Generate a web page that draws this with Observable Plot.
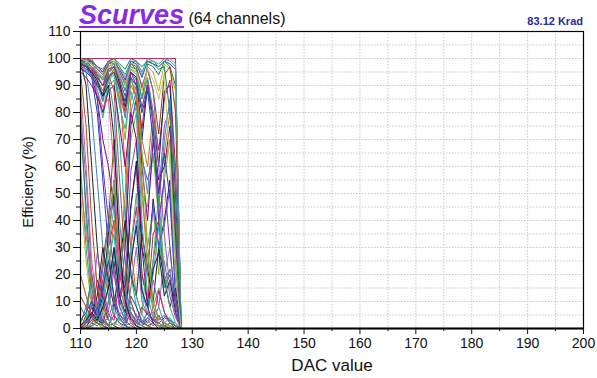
<!DOCTYPE html>
<html>
<head>
<meta charset="utf-8">
<script src="https://cdn.jsdelivr.net/npm/d3@7"></script>
<script src="https://cdn.jsdelivr.net/npm/@observablehq/plot@0.6"></script>
<style>
  body { margin: 0; background: #fff; font-family: "Liberation Sans", Arial, sans-serif; }
  #wrap { position: relative; width: 597px; height: 378px; }
  #title { position: absolute; left: 79px; top: 2px; white-space: nowrap; line-height: 27px; }
  #title .main { font-size: 27px; font-weight: bold; font-style: italic; color: #8a2be2; text-decoration: underline; }
  #title .sub { font-size: 16px; color: #111; }
  #dose { position: absolute; right: 14px; top: 15px; font-size: 11px; font-weight: bold; color: #2a2aa0; }
  #ylab { position: absolute; left: 27px; top: 182px; transform: translate(-50%, -50%) rotate(-90deg); font-size: 15px; color: #111; white-space: nowrap; }
  #xlab { position: absolute; left: 332px; top: 356px; transform: translateX(-50%); font-size: 17px; color: #111; white-space: nowrap; }
</style>
</head>
<body>
<div id="wrap">
  <div id="chart"></div>
  <div id="title"><span class="main">Scurves</span><span class="sub"> (64 channels)</span></div>
  <div id="dose">83.12 Krad</div>
  <div id="ylab">Efficiency (%)</div>
  <div id="xlab">DAC value</div>
</div>
<script>
// DAC values at which the efficiency was measured (last one: end of scan)
const dac = [110,111,112,113,114,115,116,117,118,119,120,121,122,123,124,125,126,127,128,200];

// Efficiency (%) per channel, one value per DAC point
const ch01 = [100,100,100,100,100,100,100,100,100,100,100,100,100,100,100,100,100,100,0,0];
const ch02 = [99,100,98,95,93,98,99,96,92,99,98,93,99,98,97,99,98,96,0,0];
const ch03 = [98,99,99,93,90,97,99,94,88,97,96,85,98,97,94,99,97,90,0,0];
const ch04 = [97,98,100,96,95,99,100,97,94,99,99,95,100,99,98,100,99,97,0,0];
const ch05 = [100,99,97,92,88,96,98,92,84,96,95,80,97,95,88,98,96,88,0,0];
const ch06 = [96,98,99,94,92,98,99,95,90,98,97,89,96,88,72,94,97,80,0,0];
const ch07 = [99,100,99,97,95,99,98,90,80,95,90,74,92,80,66,85,92,60,0,0];
const ch08 = [98,97,96,90,86,95,97,91,82,95,93,70,90,78,60,88,90,50,0,0];
const ch09 = [100,99,98,96,94,99,99,97,93,98,98,94,99,99,97,99,100,98,0,0];
const ch10 = [97,96,95,91,84,93,96,88,78,93,85,62,55,64,50,75,82,40,0,0];
const ch11 = [99,98,96,88,80,92,95,84,70,92,88,48,30,45,20,60,70,25,0,0];
const ch12 = [98,99,97,95,92,96,97,89,60,30,12,5,2,4,1,2,0,0,0,0];
const ch13 = [96,97,95,88,78,90,92,70,40,20,8,3,1,2,0,1,0,0,0,0];
const ch14 = [100,98,94,85,70,60,45,25,10,4,1,0,0,0,0,0,0,0,0,0];
const ch15 = [100,95,80,55,30,12,5,2,0,0,0,0,0,0,0,0,0,0,0,0];
const ch16 = [99,90,60,30,10,3,1,0,0,0,0,0,0,0,0,0,0,0,0,0];
const ch17 = [95,75,40,15,5,1,0,0,0,0,0,0,0,0,0,0,0,0,0,0];
const ch18 = [90,60,25,8,2,0,0,0,0,0,0,0,0,0,0,0,0,0,0,0];
const ch19 = [85,40,10,2,0,0,0,0,0,0,0,0,0,0,0,0,0,0,0,0];
const ch20 = [80,55,20,5,1,0,0,0,0,0,0,0,0,0,0,0,0,0,0,0];
const ch21 = [100,98,96,85,60,40,20,8,3,1,0,0,0,0,0,0,0,0,0,0];
const ch22 = [100,97,93,80,55,30,10,4,1,0,0,0,0,0,0,0,0,0,0,0];
const ch23 = [75,45,15,5,1,0,0,0,0,0,0,0,0,0,0,0,0,0,0,0];
const ch24 = [60,30,10,4,1,0,0,0,0,0,0,0,0,0,0,0,0,0,0,0];
const ch25 = [50,25,8,2,0,0,0,0,0,0,0,0,0,0,0,0,0,0,0,0];
const ch26 = [0,5,20,8,25,40,70,30,10,45,60,20,10,35,40,15,20,10,0,0];
const ch27 = [0,2,10,5,18,30,40,15,8,30,45,20,10,25,40,18,22,5,0,0];
const ch28 = [0,2,8,4,12,35,50,20,15,45,62,30,20,48,30,40,55,20,0,0];
const ch29 = [0,3,10,5,15,30,45,15,8,30,50,15,5,25,50,20,30,8,0,0];
const ch30 = [2,8,18,6,22,38,55,22,18,58,70,35,22,45,30,38,52,18,0,0];
const ch31 = [0,0,2,5,10,30,55,20,35,70,80,50,45,65,40,55,70,30,0,0];
const ch32 = [0,1,3,2,8,20,40,25,50,85,90,70,60,80,50,65,80,40,0,0];
const ch33 = [0,2,6,2,10,25,35,10,5,25,40,12,8,20,38,15,22,5,0,0];
const ch34 = [0,0,1,3,2,10,25,8,30,75,85,60,40,70,55,60,75,35,0,0];
const ch35 = [1,2,5,3,6,15,30,18,40,80,88,65,50,75,45,70,85,55,0,0];
const ch36 = [0,0,5,12,30,18,8,25,40,20,12,35,22,10,30,18,8,15,0,0];
const ch37 = [20,12,5,2,8,3,1,5,2,6,2,1,3,1,4,2,1,0,0,0];
const ch38 = [55,35,18,8,4,1,0,0,0,0,0,0,0,0,0,0,0,0,0,0];
const ch39 = [0,4,18,6,3,10,28,12,4,22,12,5,28,8,15,6,3,2,0,0];
const ch40 = [0,2,8,28,15,6,22,8,3,15,30,10,5,18,8,25,12,4,0,0];
const ch41 = [0,1,3,8,3,1,5,2,1,6,3,1,4,2,5,1,2,0,0,0];
const ch42 = [3,6,10,4,15,25,12,5,3,12,8,2,6,3,2,4,3,1,0,0];
const ch43 = [8,4,2,1,3,1,2,4,1,2,1,3,1,2,1,1,0,0,0,0];
const ch44 = [0,0,2,5,2,1,8,3,2,10,4,2,6,3,8,2,4,1,0,0];
const ch45 = [2,1,0,3,1,0,2,1,0,1,2,1,0,2,1,0,1,0,0,0];
const ch46 = [12,8,4,2,1,0,0,0,0,0,0,0,0,0,0,0,0,0,0,0];
const ch47 = [0,2,4,18,12,5,3,20,10,4,2,8,5,3,14,6,2,1,0,0];
const ch48 = [1,3,6,3,8,15,30,12,6,24,38,14,8,22,28,12,18,6,0,0];
const ch49 = [0,1,1,2,6,3,1,4,12,5,2,3,2,8,4,2,1,0,0,0];
const ch50 = [4,2,3,6,2,4,10,5,3,8,5,2,4,6,3,5,2,1,0,0];
const ch51 = [97,98,96,93,90,95,96,88,85,92,90,65,30,10,4,2,1,0,0,0];
const ch52 = [99,97,95,92,88,94,95,85,80,90,86,55,20,6,2,1,0,0,0,0];
const ch53 = [98,96,93,90,85,92,94,82,74,88,80,40,12,4,1,0,0,0,0,0];
const ch54 = [95,93,90,86,80,88,90,75,60,80,70,30,8,2,0,0,0,0,0,0];
const ch55 = [99,98,97,94,90,93,80,40,15,6,2,1,0,0,0,0,0,0,0,0];
const ch56 = [98,97,95,92,86,90,70,30,10,3,1,0,0,0,0,0,0,0,0,0];
const ch57 = [100,99,97,93,90,94,88,55,25,10,4,2,1,0,0,0,0,0,0,0];
const ch58 = [97,95,93,88,82,85,60,22,8,2,0,0,0,0,0,0,0,0,0,0];
const ch59 = [99,98,97,95,92,97,98,93,88,96,94,85,93,80,45,20,8,2,0,0];
const ch60 = [100,99,98,96,94,98,99,95,91,98,96,90,96,88,60,35,15,5,0,0];
const ch61 = [98,97,96,93,90,96,97,92,86,95,92,82,90,75,40,55,30,8,0,0];
const ch62 = [96,95,93,90,87,93,95,89,84,93,90,80,88,70,50,65,48,12,0,0];
const ch63 = [99,100,99,97,96,99,100,98,96,100,99,97,99,98,96,97,80,40,0,0];
const ch64 = [100,99,98,95,93,97,99,94,90,97,95,88,96,92,85,94,60,20,0,0];

const channels = [ch01,ch02,ch03,ch04,ch05,ch06,ch07,ch08,ch09,ch10,ch11,ch12,ch13,ch14,ch15,ch16,
  ch17,ch18,ch19,ch20,ch21,ch22,ch23,ch24,ch25,ch26,ch27,ch28,ch29,ch30,ch31,ch32,
  ch33,ch34,ch35,ch36,ch37,ch38,ch39,ch40,ch41,ch42,ch43,ch44,ch45,ch46,ch47,ch48,
  ch49,ch50,ch51,ch52,ch53,ch54,ch55,ch56,ch57,ch58,ch59,ch60,ch61,ch62,ch63,ch64];

const xTicks = [110,120,130,140,150,160,170,180,190,200];
const yTicks = [0,10,20,30,40,50,60,70,80,90,100,110];

// line colours (ROOT-like palette)
const palette = ["#7b2fbf","#1f3fbf","#1a7f5a","#2a9d8f","#b5b520","#8b4513","#c2185b","#0b1f5e",
  "#5f9ea0","#6a5acd","#7cae32","#d2691e","#20b2aa","#800080","#4682b4","#222222","#a0522d","#e0559b","#3cb371","#9b59b6"];

const rows = [];
channels.forEach((vals, c) => {
  vals.forEach((v, i) => rows.push({ch: c, x: dac[i], y: v}));
});
const colorOf = c => c === 0 ? "#d0205a" : (c === channels.length - 1 ? "#c9c86a" : palette[c % palette.length]);

const chart = Plot.plot({
  width: 597,
  height: 378,
  marginLeft: 80,
  marginRight: 14,
  marginTop: 31,
  marginBottom: 50,
  style: {fontFamily: "Liberation Sans, Arial, sans-serif", fontSize: "14px", color: "#111", background: "#fff"},
  x: {domain: [110, 200]},
  y: {domain: [0, 110]},
  marks: [
    Plot.gridX(d3.range(110, 201, 5), {stroke: "#c8c8c8", strokeOpacity: 1, strokeDasharray: "1.5,1.5"}),
    Plot.gridY(d3.range(0, 111, 5), {stroke: "#c8c8c8", strokeOpacity: 1, strokeDasharray: "1.5,1.5"}),
    ...channels.map((vals, c) => Plot.line(rows.filter(r => r.ch === c), {x: "x", y: "y", stroke: colorOf(c), strokeWidth: 1})),
    Plot.frame({stroke: "#000", strokeWidth: 1.2}),
    Plot.ruleY([0], {stroke: "#000", strokeWidth: 2}),
    Plot.axisY(yTicks, {tickSize: 7, tickPadding: 3, label: null, fontSize: 14}),
    Plot.axisY(d3.range(5, 110, 10), {tickSize: 4, text: null, label: null}),
    Plot.axisX(xTicks, {tickSize: 6, tickPadding: 4, label: null, fontSize: 14}),
    Plot.axisX(d3.range(115, 200, 10), {tickSize: 3, text: null, label: null})
  ]
});
document.getElementById("chart").appendChild(chart);
</script>
</body>
</html>
